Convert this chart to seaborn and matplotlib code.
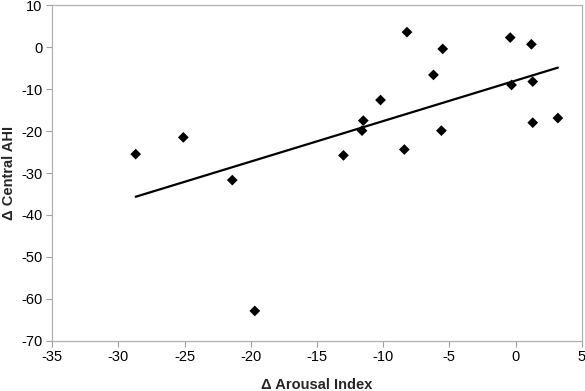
import numpy as np
import pandas as pd
import seaborn as sns
import matplotlib.pyplot as plt

arousal = [-28.7, -25.1, -21.4, -19.7, -8.2, -5.5, -6.2, -0.4, 1.2, -0.3,
           1.3, -10.2, -11.5, -11.6, -5.6, 1.3, 3.2, -13.0, -8.4]
ahi = [-25.5, -21.5, -31.7, -62.9, 3.6, -0.4, -6.6, 2.3, 0.7, -9.0,
       -8.2, -12.6, -17.5, -19.9, -19.9, -18.0, -16.9, -25.8, -24.4]
xticks = [-35, -30, -25, -20, -15, -10, -5, 0, 5]
yticks = [10, 0, -10, -20, -30, -40, -50, -60, -70]

df = pd.DataFrame({"arousal": arousal, "ahi": ahi})

sns.set_style("white")
plt.rcParams['font.family'] = ['Liberation Sans', 'DejaVu Sans']
plt.rcParams['axes.unicode_minus'] = False

fig = plt.figure(figsize=(5.85, 3.91), dpi=100)
ax = fig.add_axes([52.3 / 585, 1 - 340.7 / 391, 529.4 / 585, 335.4 / 391])

sns.regplot(x="arousal", y="ahi", data=df, ci=None, ax=ax, truncate=True,
            marker="D",
            scatter_kws={"s": 30, "color": "black", "edgecolor": "none",
                         "alpha": 1},
            line_kws={"color": "black", "lw": 1.6})

ax.set_xlim(-35, 5)
ax.set_ylim(-70, 10)
ax.set_xticks(xticks)
ax.set_yticks(yticks)
ax.tick_params(labelsize=10.5, colors="black", length=4, width=0.8,
               direction="out", left=True, bottom=True, pad=3)
ax.tick_params(axis="both", color="#a0a0a0")
for s in ax.spines.values():
    s.set_color("#b0b0b0")
    s.set_linewidth(0.9)

ax.set_xlabel("Δ Arousal Index", fontsize=10.5, fontweight="bold")
ax.set_ylabel("Δ Central AHI", fontsize=10.5, fontweight="bold")
ax.xaxis.set_label_coords(0.5, (340.7 - 385) / 335.4)
ax.xaxis.label.set_va("center")
ax.yaxis.set_label_coords((9 - 52.3) / 529.4, 0.5)
ax.yaxis.label.set_va("center")

fig.savefig("out.png", dpi=100)
